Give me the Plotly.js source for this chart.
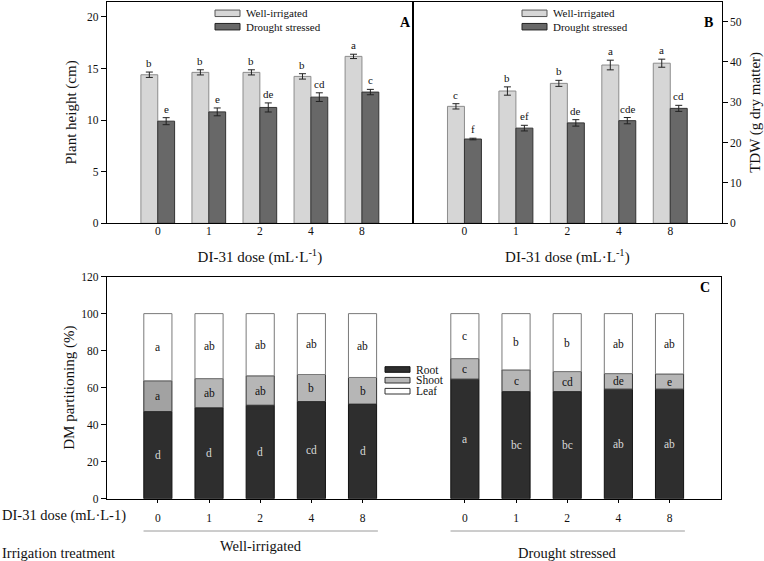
<!DOCTYPE html>
<html>
<head>
<meta charset="utf-8">
<script src="https://cdn.plot.ly/plotly-3.0.1.min.js"></script>
<style>html,body{margin:0;padding:0;background:#fff;}#chart{width:764px;height:561px;}</style>
</head>
<body>
<div id="chart"></div>
<script>
// ---------- DATA ----------
const doses = ['0', '1', '2', '4', '8'];
const seriesNames = ['Well-irrigated', 'Drought stressed'];

// Panel A: plant height (cm)
const heightWI = [14.4, 14.63, 14.63, 14.24, 16.18];
const heightWIerr = [0.26, 0.25, 0.25, 0.26, 0.21];
const heightWIletters = ['b', 'b', 'b', 'b', 'a'];
const heightDS = [9.9, 10.8, 11.23, 12.23, 12.72];
const heightDSerr = [0.34, 0.38, 0.44, 0.42, 0.26];
const heightDSletters = ['e', 'e', 'de', 'cd', 'c'];

// Panel B: TDW (g dry matter)
const tdwWI = [29.0, 32.8, 34.7, 39.25, 39.7];
const tdwWIerr = [0.66, 1.03, 0.75, 1.2, 1.0];
const tdwWIletters = ['c', 'b', 'b', 'a', 'a'];
const tdwDS = [20.9, 23.6, 24.9, 25.45, 28.5];
const tdwDSerr = [0.2, 0.7, 0.8, 0.78, 0.75];
const tdwDSletters = ['f', 'ef', 'de', 'cde', 'cd'];

// Panel C: DM partitioning (%)
const partNames = ['Root', 'Shoot', 'Leaf'];
const groupNames = ['Well-irrigated', 'Drought stressed'];
const rootWI = [47.1, 49.1, 50.5, 52.5, 51.1];
const shootWI = [16.6, 15.8, 15.9, 14.6, 14.4];
const leafWI = [36.3, 35.1, 33.6, 32.9, 34.5];
const rootDS = [64.6, 57.9, 57.9, 59.2, 59.2];
const shootDS = [11.1, 11.7, 10.8, 8.4, 8.2];
const leafDS = [24.3, 30.4, 31.3, 32.4, 32.6];
const rootWIletters = ['d', 'd', 'd', 'cd', 'd'];
const shootWIletters = ['a', 'ab', 'ab', 'b', 'b'];
const leafWIletters = ['a', 'ab', 'ab', 'ab', 'ab'];
const rootDSletters = ['a', 'bc', 'bc', 'ab', 'ab'];
const shootDSletters = ['c', 'c', 'cd', 'de', 'e'];
const leafDSletters = ['c', 'b', 'b', 'ab', 'ab'];

// ---------- HELPERS ----------
const W = 764, H = 561;
const px = x => x / W;
const py = y => 1 - y / H;
const FONT = "'Liberation Serif', 'Times New Roman', 'DejaVu Serif', serif";
const idx = doses.map((d, i) => i);
const cWI = idx;                 // positions of well-irrigated group in panel C
const cDS = idx.map(i => i + 6); // positions of drought group in panel C
const cX = cWI.concat(cDS);
const cRoot = rootWI.concat(rootDS);
const cShoot = shootWI.concat(shootDS);
const cLeaf = leafWI.concat(leafDS);
const cShootBase = cRoot;
const cLeafBase = cRoot.map((r, i) => r + cShoot[i]);

const LIGHT = '#d6d6d6', DARK = '#686868';
const off = 0.165;

const traces = [
  {type: 'bar', x: idx, y: heightWI, name: seriesNames[0], xaxis: 'x', yaxis: 'y',
   marker: {color: LIGHT, line: {color: '#8c8c8c', width: 1}},
   error_y: {type: 'data', array: heightWIerr, color: '#222', thickness: 1, width: 3.5}, showlegend: false},
  {type: 'bar', x: idx, y: heightDS, name: seriesNames[1], xaxis: 'x', yaxis: 'y',
   marker: {color: DARK, line: {color: '#333', width: 1}},
   error_y: {type: 'data', array: heightDSerr, color: '#222', thickness: 1, width: 3.5}, showlegend: false},
  {type: 'bar', x: idx, y: tdwWI, name: seriesNames[0], xaxis: 'x2', yaxis: 'y2',
   marker: {color: LIGHT, line: {color: '#8c8c8c', width: 1}},
   error_y: {type: 'data', array: tdwWIerr, color: '#222', thickness: 1, width: 3.5}, showlegend: false},
  {type: 'bar', x: idx, y: tdwDS, name: seriesNames[1], xaxis: 'x2', yaxis: 'y2',
   marker: {color: DARK, line: {color: '#333', width: 1}},
   error_y: {type: 'data', array: tdwDSerr, color: '#222', thickness: 1, width: 3.5}, showlegend: false},
  {type: 'bar', x: cX, y: cRoot, name: partNames[0], xaxis: 'x3', yaxis: 'y3', width: 0.55, offset: -0.275,
   marker: {color: '#2e2e2e', line: {color: '#111', width: 1}}, showlegend: false},
  {type: 'bar', x: cX, y: cShoot, base: cShootBase, name: partNames[1], xaxis: 'x3', yaxis: 'y3', width: 0.55, offset: -0.275,
   marker: {color: cX.map((v, i) => i === 0 ? '#a2a2a2' : '#b6b6b6'), line: {color: '#333', width: 1}}, showlegend: false},
  {type: 'bar', x: cX, y: cLeaf, base: cLeafBase, name: partNames[2], xaxis: 'x3', yaxis: 'y3', width: 0.55, offset: -0.275,
   marker: {color: '#ffffff', line: {color: '#7a7a7a', width: 1}}, showlegend: false}
];

const annotations = [];
const shapes = [];
function letterAnn(xa, ya, xs, ys, errs, letters, dx) {
  xs.forEach((x, i) => annotations.push({
    xref: xa, yref: ya, x: x + dx, y: ys[i] + errs[i], text: letters[i], showarrow: false,
    yanchor: 'bottom', xanchor: 'center', yshift: 1, font: {family: FONT, size: 11, color: '#111'}
  }));
}
letterAnn('x', 'y', idx, heightWI, heightWIerr, heightWIletters, -off);
letterAnn('x', 'y', idx, heightDS, heightDSerr, heightDSletters, off);
letterAnn('x2', 'y2', idx, tdwWI, tdwWIerr, tdwWIletters, -off);
letterAnn('x2', 'y2', idx, tdwDS, tdwDSerr, tdwDSletters, off);

// Panel C letters centred in each segment
const cRootLet = rootWIletters.concat(rootDSletters);
const cShootLet = shootWIletters.concat(shootDSletters);
const cLeafLet = leafWIletters.concat(leafDSletters);
cX.forEach((x, i) => {
  annotations.push({xref: 'x3', yref: 'y3', x: x, y: cRoot[i] / 2, text: cRootLet[i], showarrow: false,
    font: {family: FONT, size: 11.5, color: '#d8d8d8'}});
  annotations.push({xref: 'x3', yref: 'y3', x: x, y: cShootBase[i] + cShoot[i] / 2, text: cShootLet[i], showarrow: false,
    height: 12, font: {family: FONT, size: 11.5, color: '#111'}});
  annotations.push({xref: 'x3', yref: 'y3', x: x, y: cLeafBase[i] + cLeaf[i] / 2, text: cLeafLet[i], showarrow: false,
    font: {family: FONT, size: 11.5, color: '#111'}});
});

// Manual legends (wide flat swatches as in the reference)
function legendRow(x0, yc, name, fill, edge, fs, h, boxH) {
  shapes.push({type: 'rect', xref: 'paper', yref: 'paper', x0: px(x0), x1: px(x0 + 25), y0: py(yc + h / 2), y1: py(yc - h / 2),
    fillcolor: fill, line: {color: edge, width: 1}});
  annotations.push({xref: 'paper', yref: 'paper', x: px(x0 + 29), y: py(yc), text: name, showarrow: false,
    xanchor: 'left', yanchor: 'middle', height: boxH, font: {family: FONT, size: fs, color: '#111'}});
}
legendRow(215, 13.3, seriesNames[0], LIGHT, '#555', 11, 6.5, 12);
legendRow(215, 26.7, seriesNames[1], DARK, '#222', 11, 6.5, 12);
legendRow(522, 13.3, seriesNames[0], LIGHT, '#555', 11, 6.5, 12);
legendRow(522, 26.7, seriesNames[1], DARK, '#222', 11, 6.5, 12);
legendRow(385, 369.5, partNames[0], '#2e2e2e', '#111', 11.5, 5.6, 10);
legendRow(385, 380.2, partNames[1], '#b6b6b6', '#333', 11.5, 5.6, 10);
legendRow(385, 391.2, partNames[2], '#ffffff', '#333', 11.5, 5.6, 10);

// Panel labels
[['A', 405, 13], ['B', 715, 13], ['C', 712, 287]].forEach(([t, x, y]) => annotations.push({
  xref: 'paper', yref: 'paper', x: px(x), y: py(y), text: '<b>' + t + '</b>', showarrow: false,
  font: {family: FONT, size: 14, color: '#000'}}));

// Panel C group labels and underlines
annotations.push({xref: 'paper', yref: 'paper', x: 0, y: py(515.5), xanchor: 'left', yanchor: 'middle',
  text: 'DI-31 dose (mL·L-1)', showarrow: false, font: {family: FONT, size: 14.5, color: '#111'}});
annotations.push({xref: 'paper', yref: 'paper', x: 0, y: py(552.5), xanchor: 'left', yanchor: 'middle',
  text: 'Irrigation treatment', showarrow: false, font: {family: FONT, size: 14.5, color: '#111'}});
[[cWI, groupNames[0], 546], [cDS, groupNames[1], 552.5]].forEach(([pos, name, yc]) => {
  const lo = Math.min(...pos) - 0.28, hi = Math.max(...pos) + 0.3;
  shapes.push({type: 'line', xref: 'x3', yref: 'paper', x0: lo, x1: hi, y0: py(531), y1: py(531),
    line: {color: '#9a9a9a', width: 1}});
  annotations.push({xref: 'x3', yref: 'paper', x: (lo + hi) / 2, y: py(yc), yanchor: 'middle',
    text: name, showarrow: false, font: {family: FONT, size: 14.5, color: '#111'}});
});

const axBase = {showline: true, linecolor: '#000', linewidth: 1, mirror: true, showgrid: false, zeroline: false,
  tickfont: {family: FONT, size: 11.5, color: '#111'}, tickcolor: '#000'};
const titleFont = {family: FONT, size: 15, color: '#111'};

const layout = {
  width: W, height: H, margin: {l: 0, r: 0, t: 0, b: 0},
  paper_bgcolor: '#fff', plot_bgcolor: '#fff', showlegend: false,
  barmode: 'group', bargap: 0.34, bargroupgap: 0,
  font: {family: FONT, color: '#111'},
  xaxis: Object.assign({}, axBase, {domain: [px(106.7), px(413)], range: [-1, 5], anchor: 'y',
    tickvals: idx, ticktext: doses, ticks: '', ticklabelstandoff: -3,
    title: {text: 'DI-31 dose (mL·L<sup>-1</sup>)', font: titleFont, standoff: 15}}),
  yaxis: Object.assign({}, axBase, {domain: [py(223.3), py(1.5)], range: [0, 21.5], anchor: 'x',
    tickvals: [0, 5, 10, 15, 20], ticks: 'outside', ticklen: 5,
    title: {text: 'Plant height (cm)', font: titleFont, standoff: 6}}),
  xaxis2: Object.assign({}, axBase, {domain: [px(413), px(721.7)], range: [-1, 5], anchor: 'y2',
    tickvals: idx, ticktext: doses, ticks: '', ticklabelstandoff: -3,
    title: {text: 'DI-31 dose (mL·L<sup>-1</sup>)', font: titleFont, standoff: 15}}),
  yaxis2: Object.assign({}, axBase, {domain: [py(223.3), py(1.5)], range: [0, 55], anchor: 'x2', side: 'right',
    tickvals: [0, 10, 20, 30, 40, 50], ticks: 'outside', ticklen: 5,
    title: {text: 'TDW (g dry matter)', font: titleFont, standoff: 8}}),
  xaxis3: Object.assign({}, axBase, {domain: [px(106.7), px(720.7)], range: [-1, 11], anchor: 'y3',
    tickvals: cX, ticktext: doses.concat(doses), ticks: 'outside', ticklen: 3, ticklabelstandoff: 5}),
  yaxis3: Object.assign({}, axBase, {domain: [py(498.7), py(276.6)], range: [0, 120], anchor: 'x3',
    tickvals: [0, 20, 40, 60, 80, 100, 120], ticks: 'outside', ticklen: 5,
    title: {text: 'DM partitioning (%)', font: titleFont, standoff: 2}}),
  annotations: annotations,
  shapes: shapes
};

Plotly.newPlot('chart', traces, layout, {displayModeBar: false, staticPlot: true});
</script>
</body>
</html>
